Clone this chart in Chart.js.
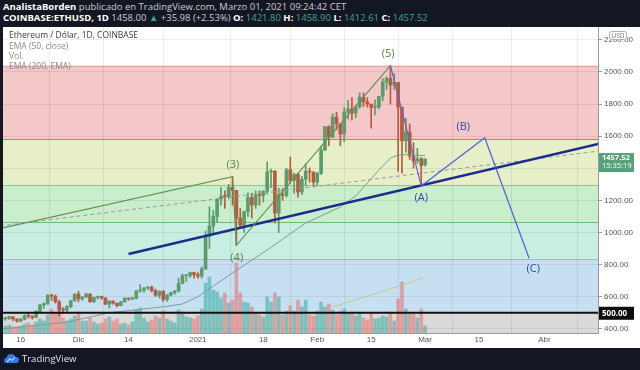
<!DOCTYPE html>
<html>
<head>
<meta charset="utf-8">
<script src="https://cdn.jsdelivr.net/npm/chart.js@4/dist/chart.umd.min.js"></script>
<style>
body { margin: 0; width: 640px; height: 370px; overflow: hidden; background: #131722; font-family: "Open Sans", "Liberation Sans", sans-serif; }
#head { position: absolute; left: 3px; top: 2px; font-size: 9.5px; line-height: 10.5px; color: #c9ccd4; white-space: nowrap; }
#head b { color: #fff; font-weight: 700; }
#head .g { color: #3da58f; }
#foot { position: absolute; left: 4px; top: 352px; font-size: 9.5px; color: #e0e3eb; display: flex; align-items: center; gap: 3px; }
canvas { position: absolute; left: 0; top: 0; }
</style>
</head>
<body>
<div id="head">
  <div><b>AnalistaBorden</b> publicado en TradingView.com, Marzo 01, 2021 09:24:42 CET</div>
  <div><b>COINBASE:ETHUSD, 1D</b> 1458.00 <span class="g">&#9650;</span> +35.98 (+2.53%) <b>O:</b> <span class="g">1421.80</span> <b>H:</b> <span class="g">1458.90</span> <b>L:</b> <span class="g">1412.61</span> <b>C:</b> <span class="g">1457.52</span></div>
</div>
<canvas id="ethChart" width="640" height="370"></canvas>
<div id="foot">
  <svg width="15" height="11" viewBox="0 0 15 11"><path d="M2 10 Q0 10 0 7.5 Q0 5 2.5 5 Q3 1 7 1 Q10.5 1 11.5 4 Q15 4 15 7 Q15 10 12 10 Z" fill="#2f7bf0"/><path d="M3 9 L6 5.5 L8 7.5 L11 4" stroke="#fff" stroke-width="1" fill="none"/></svg>
  <span>TradingView</span>
</div>
<script>
// days counted from 2021-01-01; first candle is 2020-11-12
const firstDay = -50;
const opens  = [462,464,475,461,448,460,481,479,471,509,549,558,608,604,568,518,517,538,575,
  616,587,598,616,569,596,601,592,554,573,560,545,568,590,586,589,636,642,654,658,638,609,634,583,611,626,635,683,731,732,751,
  737,729,774,975,1041,1100,1208,1225,1224,1281,1262,1090,1044,1130,1218,1171,1233,1230,1257,1377,1382,1121,1236,1231,1391,1324,1362,1252,1331,1382,1377,
  1314,1369,1514,1660,1594,1719,1677,1614,1750,1769,1744,1784,1843,1814,1800,1780,1781,1848,1937,1960,1919,1935,1781,1571,1626,1476,1446,1459,
  1421.8];
const highs  = [474,480,476,462,466,488,496,481,513,553,562,614,616,610,578,532,545,577,618,
  634,600,622,619,598,605,603,594,576,575,561,572,595,591,595,640,676,659,664,667,647,637,638,614,628,640,715,742,737,754,753,
  750,786,1010,1160,1138,1210,1280,1260,1300,1348,1262,1150,1134,1247,1245,1260,1260,1260,1440,1395,1385,1275,1274,1400,1470,1370,1372,1350,1430,1402,1378,
  1375,1538,1660,1665,1740,1749,1680,1779,1823,1840,1790,1870,1869,1840,1800,1827,1850,1960,1970,2040,1990,1935,1781,1711,1676,1560,1525,1467,
  1458.9];
const lows   = [452,458,450,442,443,456,466,460,469,507,526,551,577,560,480,495,505,530,572,
  568,578,595,563,563,584,584,550,530,553,536,543,564,577,580,585,628,626,644,629,601,592,570,570,603,615,630,680,695,720,715,
  715,715,768,900,990,1063,1170,1150,1210,1170,920,1030,1000,1100,1090,1150,1170,1190,1240,1280,1060,1000,1200,1220,1306,1245,1220,1235,1290,1313,1290,
  1294,1360,1510,1540,1590,1640,1540,1565,1708,1700,1715,1772,1785,1780,1650,1733,1770,1820,1890,1800,1890,1380,1370,1500,1455,1400,1430,1290,
  1412.6];
const closes = [464,475,461,448,460,481,479,471,509,549,558,608,604,568,518,517,538,575,616,
  587,598,616,569,596,601,592,554,573,560,545,568,590,586,589,636,642,654,658,638,609,634,583,611,626,635,683,731,732,751,737,
  729,774,975,1041,1100,1208,1225,1224,1281,1262,1090,1044,1130,1218,1171,1233,1230,1257,1377,1382,1121,1236,1231,1391,1324,1362,1252,1331,1382,1377,1314,
  1369,1514,1660,1594,1719,1677,1614,1750,1769,1744,1784,1843,1814,1800,1780,1781,1848,1937,1960,1919,1935,1781,1571,1626,1476,1446,1459,1417,
  1457.5];
// volume, thousand ETH
const volumes = [175,200,150,150,175,225,250,200,275,350,300,450,600,500,650,375,300,350,425,
  525,300,300,375,275,225,250,350,400,300,350,225,250,200,275,575,625,375,275,325,425,375,550,350,300,250,575,525,400,375,350,
  425,600,1250,1400,1075,1025,875,1000,750,825,1750,1000,775,750,650,500,450,400,900,775,1000,900,450,550,675,550,825,650,825,450,425,
  550,775,650,725,575,450,550,600,500,525,425,475,375,325,500,350,375,425,400,525,300,850,1275,600,500,475,375,600,
  175];

const emaDays   = [-51, -43, -34, -23, -8, -4, 0, 9, 18, 28, 37, 41, 47, 50, 52, 55, 59];
const emaPrices = [400, 418, 442, 500, 540, 555, 600, 748, 891, 1059, 1159, 1228, 1389, 1464, 1483, 1485, 1478];
const volEmaDays   = [35, 47, 58.5];
const volEmaValues = [650, 1010, 1375];

const waveDays   = [-55, 9, 10, 50];
const wavePrices = [1005, 1348, 920, 2040];
const abcDays    = [58, 74.5, 86];
const abcPrices  = [1290, 1590, 840];
const trendDays   = [-18, 110];
const trendPrices = [866, 1585];
const dashDays    = [-55, 110];
const dashPrices  = [1030, 1525];

const waveLabels      = ["(3)", "(4)", "(5)", "(A)", "(B)", "(C)"];
const waveLabelDays   = [9.1, 10.1, 49.4, 58, 68.9, 87.1];
const waveLabelPrices = [1420, 841, 2112, 1215, 1657, 773];

const fibLevels = [2040, 1582, 1296, 1065, 837, 500];
const priceTicks = [400, 600, 800, 1000, 1200, 1400, 1600, 1800, 2000, 2200];
const dateTicks  = [-46, -31, -18, 0, 17, 31, 45, 59, 73, 90];
const dateLabels = ["16", "Dic", "14", "2021", "18", "Feb", "15", "Mar", "15", "Abr"];
const lastPrice = 1457.52;
const lastTime = "15:35:19";

const bandColors = ["#f4c8c8", "#e7efc8", "#caedcb", "#c7eee1", "#c7e0f1", "#dadada"];
const lineColors = ["#e6a3a3", "#e07070", "#86c98a", "#6cbf72", "#78cbbd", "#111111"];
const upColor = "#5a9c6c", downColor = "#b65b40";

const days = opens.map((o, i) => firstDay + i);
const candleColors = opens.map((o, i) => closes[i] >= o ? upColor : downColor);
const volColors = opens.map((o, i) => closes[i] >= o ? "rgba(38,166,154,0.5)" : "rgba(239,83,80,0.45)");
const pts = (xs, ys) => xs.map((x, i) => ({ x: x, y: ys[i] }));

const bands = {
    id: "bands",
    beforeDraw(chart) {
        const { ctx, chartArea: a, scales: { y } } = chart;
        ctx.save();
        ctx.fillStyle = "#ffffff";
        ctx.fillRect(3, 27, 637, 321);
        fibLevels.forEach((lv, i) => {
            const top = y.getPixelForValue(lv);
            const bot = i + 1 < fibLevels.length ? y.getPixelForValue(fibLevels[i + 1]) : a.bottom;
            ctx.fillStyle = bandColors[i];
            ctx.fillRect(a.left, top, a.right - a.left, bot - top);
        });
        fibLevels.slice(0, -1).forEach((lv, i) => {
            const py = Math.round(y.getPixelForValue(lv)) + 0.5;
            ctx.strokeStyle = lineColors[i];
            ctx.lineWidth = 1;
            ctx.beginPath(); ctx.moveTo(a.left, py); ctx.lineTo(a.right, py); ctx.stroke();
        });
        ctx.restore();
    },
    afterDatasetsDraw(chart) {
        const { ctx, chartArea: a, scales: { x, y } } = chart;
        ctx.save();
        const py = y.getPixelForValue(500);
        ctx.strokeStyle = "#111"; ctx.lineWidth = 2;
        ctx.beginPath(); ctx.moveTo(a.left, py); ctx.lineTo(a.right, py); ctx.stroke();
        ctx.textAlign = "center"; ctx.textBaseline = "middle";
        ctx.font = "11px 'Open Sans', sans-serif";
        waveLabels.forEach((t, i) => {
            ctx.fillStyle = i < 3 ? "#548a3e" : "#3345b0";
            ctx.fillText(t, x.getPixelForValue(waveLabelDays[i]), y.getPixelForValue(waveLabelPrices[i]));
        });
        ctx.restore();
    },
    afterDraw(chart) {
        const { ctx, chartArea: a, scales: { y } } = chart;
        ctx.save();
        ctx.textBaseline = "middle"; ctx.textAlign = "left";
        ctx.font = "8.5px 'Open Sans', sans-serif";
        ctx.fillStyle = "#3a3a3a";
        ctx.fillText("Ethereum / Dólar, 1D, COINBASE", a.left + 6, 36);
        ctx.fillStyle = "#8a8a8a";
        ctx.fillText("EMA (50, close)", a.left + 6, 46.5);
        ctx.fillText("Vol.", a.left + 6, 56.5);
        ctx.fillText("EMA (200, EMA)", a.left + 6, 66.5);
        // last price tag
        const lp = y.getPixelForValue(lastPrice);
        ctx.fillStyle = "#55a27b";
        ctx.fillRect(a.right + 1, lp - 6, 35, 19);
        ctx.fillStyle = "#fff"; ctx.font = "bold 7.5px 'Open Sans', sans-serif";
        ctx.fillText(lastPrice.toFixed(2), a.right + 4, lp - 1);
        ctx.font = "7.5px 'Open Sans', sans-serif";
        ctx.fillText(lastTime, a.right + 4, lp + 7);
        // 500 tag
        const p5 = y.getPixelForValue(500);
        ctx.fillStyle = "#0d0d0d";
        ctx.fillRect(a.right + 1, p5 - 6, 35, 13);
        ctx.fillStyle = "#fff"; ctx.font = "bold 8px 'Open Sans', sans-serif";
        ctx.fillText("500.00", a.right + 4, p5 + 0.5);
        // USD badge
        ctx.fillStyle = "#fff"; ctx.strokeStyle = "#b0b0b0"; ctx.lineWidth = 1;
        ctx.beginPath(); ctx.roundRect(609.5, 31.5, 17, 8, 2); ctx.fill(); ctx.stroke();
        ctx.fillStyle = "#777"; ctx.font = "6.5px 'Open Sans', sans-serif"; ctx.textAlign = "center";
        ctx.fillText("USD", 618, 35.8);
        ctx.restore();
    }
};

const ctx = document.getElementById("ethChart").getContext("2d");
window.ethChart = new Chart(ctx, {
    type: "bar",
    data: {
        datasets: [
            { type: "line", data: pts(waveDays, wavePrices), borderColor: "#67914f", borderWidth: 1.2, pointRadius: 0, order: 1 },
            { type: "line", data: pts([50, 58], [2040, 1290]), borderColor: "#6a5fd0", borderWidth: 1.2, pointRadius: 0, order: 1 },
            { type: "line", data: pts(abcDays, abcPrices), borderColor: "#4a62dc", borderWidth: 1.2, pointRadius: 0, order: 1 },
            { type: "line", data: pts(trendDays, trendPrices), borderColor: "#1b2c8c", borderWidth: 2.5, pointRadius: 0, order: 1 },
            { type: "line", data: pts(dashDays, dashPrices), borderColor: "#9a9a9a", borderWidth: 1, borderDash: [4, 3], pointRadius: 0, order: 1 },
            { type: "line", data: pts(emaDays, emaPrices), borderColor: "#74a09a", borderWidth: 1, pointRadius: 0, order: 1 },
            { type: "line", yAxisID: "yv", data: pts(volEmaDays, volEmaValues), borderColor: "#b9cc8c", borderWidth: 1, pointRadius: 0, order: 1 },
            { data: days.map((d, i) => ({ x: d, y: [opens[i], closes[i]] })), backgroundColor: candleColors, barThickness: 3, minBarLength: 1, grouped: false, order: 2 },
            { data: days.map((d, i) => ({ x: d, y: [lows[i], highs[i]] })), backgroundColor: candleColors, barThickness: 1, grouped: false, order: 3 },
            { yAxisID: "yv", data: days.map((d, i) => ({ x: d, y: volumes[i] })), backgroundColor: volColors, barThickness: 3, grouped: false, order: 5 }
        ]
    },
    options: {
        responsive: false,
        animation: false,
        devicePixelRatio: 1,
        layout: { padding: { left: 3, top: 27, right: 0, bottom: 22 } },
        plugins: { legend: { display: false }, tooltip: { enabled: false } },
        scales: {
            x: {
                type: "linear", min: -50.6, max: 103.9, offset: false,
                afterBuildTicks: s => { s.ticks = dateTicks.map(v => ({ value: v })); },
                afterFit: s => { s.height = 15; },
                ticks: { autoSkip: false, maxRotation: 0, padding: 0, color: "#555", font: { size: 8 },
                    callback: (v, i) => dateLabels[i] },
                grid: { color: "rgba(0,0,0,0.07)", tickLength: 2, tickColor: "rgba(0,0,0,0)" },
                border: { display: true, color: "#9a9a9a" }
            },
            y: {
                position: "right", min: 374, max: 2280,
                afterBuildTicks: s => { s.ticks = priceTicks.map(v => ({ value: v })); },
                afterFit: s => { s.width = 42; },
                ticks: { padding: 2, color: "#555", font: { size: 8 }, callback: v => v.toFixed(2) },
                grid: { color: "rgba(0,0,0,0.07)", tickLength: 4, tickColor: "#9a9a9a" },
                border: { display: true, color: "#9a9a9a" }
            },
            yv: { display: false, min: 0, max: 7650 }
        }
    },
    plugins: [bands]
});
console.log("Chart initialized:", window.ethChart);
</script>
</body>
</html>
